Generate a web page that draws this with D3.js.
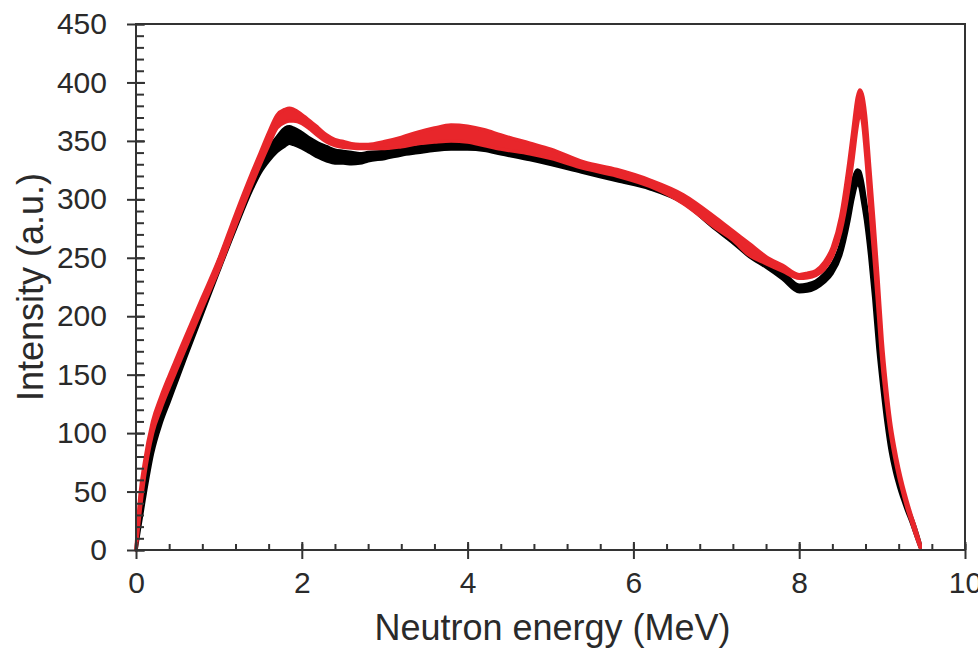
<!DOCTYPE html>
<html>
<head>
<meta charset="utf-8">
<script src="https://cdn.jsdelivr.net/npm/d3@7"></script>
<style>
  html, body { margin: 0; padding: 0; background: #fff; }
  svg { display: block; }
</style>
</head>
<body>
<svg id="chart" width="978" height="649"></svg>
<script>
// Neutron energy grid (MeV) shared by both spectra
const energy = [0, 0.05, 0.1, 0.2, 0.3, 0.4, 0.5, 0.6, 0.8, 1.0, 1.2, 1.4, 1.5, 1.6, 1.7, 1.8, 1.85, 1.9,
  2.0, 2.1, 2.2, 2.3, 2.4, 2.5, 2.6, 2.7, 2.8, 3.0, 3.2, 3.4, 3.6, 3.8, 4.0, 4.2, 4.4, 4.75, 5.0, 5.4,
  5.8, 6.2, 6.6, 7.0, 7.2, 7.4, 7.6, 7.8, 8.0, 8.1, 8.2, 8.3, 8.4, 8.5, 8.6, 8.65, 8.7, 8.73, 8.76, 8.8,
  8.85, 8.9, 8.95, 9.0, 9.05, 9.1, 9.15, 9.2, 9.25, 9.3, 9.35, 9.4, 9.46];

// Black spectrum ensemble: lower / upper envelope (a.u.)
const blackLow = [0, 22, 44, 83, 108, 127, 146, 165, 202, 239, 275, 309, 323, 333, 341, 346, 348, 347,
  344, 340, 336, 333, 331, 331, 330.5, 331, 333, 335, 338, 340, 342, 343, 343, 342, 339, 334, 330, 323,
  316, 309, 297, 274, 263, 251, 242, 232, 221, 221.5, 224, 229, 237, 252, 282, 301, 313, 311, 300, 282,
  252, 215, 172, 138, 108, 84, 67, 54, 43, 33, 24, 14, 2];
const blackHigh = [0, 34, 56, 93, 118, 136, 155, 174, 211, 248, 284, 318, 332, 344, 353, 361, 362, 361,
  357, 352, 348, 345, 342, 341, 340, 339, 340, 341, 343, 345, 347, 348, 348, 347, 344, 339, 335, 328,
  321, 314, 303, 280, 269, 257, 248, 238, 226.5, 227.5, 230, 236, 245, 262, 298, 317, 325, 324, 316, 298,
  272, 238, 194, 155, 122, 95, 75, 60, 48, 38, 29, 19, 5];

// Red spectrum ensemble: lower / upper envelope (a.u.)
const redLow = [0, 34, 62, 100, 121, 139, 156, 173, 207, 240, 277, 313, 330, 346, 361, 366, 367, 367,
  365, 360, 354, 349, 346, 344.5, 344, 343.5, 343.5, 343.5, 345, 347.5, 349, 350, 349, 346, 343, 339,
  335, 326.5, 320, 311, 296.5, 275, 265, 252, 245, 238.5, 232.5, 233, 235, 240, 251, 272, 310, 335, 363,
  373, 368, 340, 295, 253, 207, 160, 127, 100, 80, 63, 49, 36, 25, 14, 2];
const redHigh = [0, 48, 74, 110, 131, 149, 166, 183, 216, 249, 287, 323, 340, 357, 372, 377, 378, 377,
  372.5, 367, 361, 355, 351, 349.5, 347.5, 347, 347, 349.5, 353, 357.5, 361, 363.5, 362.5, 359.5, 355,
  348, 343, 332, 325.5, 316.5, 304, 284, 273, 262, 251, 243.5, 235.5, 236.8, 239, 246, 259, 285, 332, 360,
  387, 393.5, 390, 372, 328, 282, 233, 180, 141, 110, 88, 70, 55, 42, 30, 19, 5];

const xMajorTicks = [0, 2, 4, 6, 8, 10];
const yMajorTicks = [0, 50, 100, 150, 200, 250, 300, 350, 400, 450];
const xTitle = "Neutron energy (MeV)";
const yTitle = "Intensity (a.u.)";

const svg = d3.select("#chart");
const font = "'Liberation Sans', Arial, Helvetica, sans-serif";
const axisColor = "#333";
const textColor = "#2a2a2a";

const x = d3.scaleLinear().domain([0, 10]).range([136, 965]);
const y = d3.scaleLinear().domain([0, 450]).range([550, 24]);

// Spectral bands: envelope filled, outlined in the same colour for line weight
const series = [
  { name: "black", color: "#000000", lo: blackLow, hi: blackHigh },
  { name: "red", color: "#e8262b", lo: redLow, hi: redHigh }
];

const band = (lo, hi) => d3.area()
  .x((d, i) => x(energy[i]))
  .y0((d, i) => y(lo[i]))
  .y1((d, i) => y(hi[i]))
  .curve(d3.curveMonotoneX)(energy);

svg.append("g").attr("class", "bands")
  .selectAll("path")
  .data(series)
  .join("path")
  .attr("d", s => band(s.lo, s.hi))
  .attr("fill", s => s.color)
  .attr("stroke", s => s.color)
  .attr("stroke-width", 3.5)
  .attr("stroke-linejoin", "round");

// Frame
svg.append("rect")
  .attr("x", x(0)).attr("y", y(450))
  .attr("width", x(10) - x(0)).attr("height", y(0) - y(450))
  .attr("fill", "none").attr("stroke", axisColor).attr("stroke-width", 2);

function styleAxis(g) {
  g.select(".domain").remove();
  g.selectAll(".tick line").attr("stroke", axisColor).attr("stroke-width", 2);
  g.selectAll(".tick text")
    .attr("fill", textColor)
    .attr("font-family", font)
    .attr("font-size", 30);
}

// Y axis: labelled major ticks crossing the axis, minor ticks inside
svg.append("g")
  .attr("transform", `translate(${x(0)},0)`)
  .call(d3.axisLeft(y).tickValues(yMajorTicks).tickSize(9).tickPadding(20).tickFormat(d3.format("d")))
  .call(styleAxis);
svg.append("g")
  .attr("transform", `translate(${x(0)},0)`)
  .call(d3.axisRight(y).tickValues(d3.range(0, 451, 10)).tickSize(8).tickFormat(""))
  .call(styleAxis);
svg.append("g")
  .attr("transform", `translate(${x(0)},0)`)
  .call(d3.axisRight(y).tickValues(yMajorTicks).tickSize(9).tickFormat(""))
  .call(styleAxis);

// X axis: labelled major ticks crossing the axis, minor ticks every 0.4 MeV inside
svg.append("g")
  .attr("transform", `translate(0,${y(0)})`)
  .call(d3.axisBottom(x).tickValues(xMajorTicks).tickSize(9).tickPadding(13).tickFormat(d3.format("d")))
  .call(styleAxis);
svg.append("g")
  .attr("transform", `translate(0,${y(0)})`)
  .call(d3.axisTop(x).tickValues(d3.range(0, 10.01, 0.4)).tickSize(6).tickFormat(""))
  .call(styleAxis);
svg.append("g")
  .attr("transform", `translate(0,${y(0)})`)
  .call(d3.axisTop(x).tickValues(xMajorTicks).tickSize(8).tickFormat(""))
  .call(styleAxis);

// Axis titles
svg.append("text")
  .attr("x", (x(0) + x(10)) / 2 + 2)
  .attr("y", 640)
  .attr("text-anchor", "middle")
  .attr("font-family", font)
  .attr("font-size", 36)
  .attr("fill", textColor)
  .text(xTitle);

svg.append("text")
  .attr("transform", `translate(43,${(y(0) + y(450)) / 2}) rotate(-90)`)
  .attr("text-anchor", "middle")
  .attr("font-family", font)
  .attr("font-size", 36)
  .attr("fill", textColor)
  .text(yTitle);
</script>
</body>
</html>
